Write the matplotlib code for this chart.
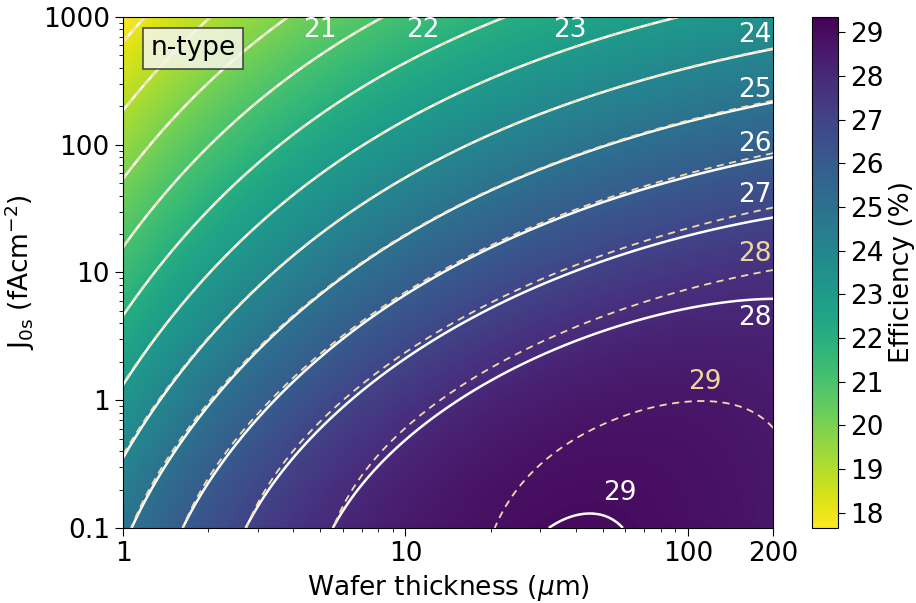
import numpy as np
import matplotlib
matplotlib.use('Agg')
import matplotlib.pyplot as plt
from matplotlib.ticker import FixedLocator, FixedFormatter, LogLocator, NullFormatter

# axis ranges
thickness_range = [1, 200]      # wafer thickness (um)
j0s_range = [0.1, 1000]         # surface saturation current (fA/cm2)

# efficiency contour levels (%)
levels = [18, 19, 20, 21, 22, 23, 24, 25, 26, 27, 28, 29]
cbar_ticks = [18, 19, 20, 21, 22, 23, 24, 25, 26, 27, 28, 29]
eff_range = [17.65, 29.35]

# cell model parameters
vt = 0.02569        # thermal voltage (V)
jsc_max = 46.0      # mA/cm2, thick-wafer limit
jsc_loss = 13.05    # mA/cm2 missing at 1 um
jsc_exp = 0.29
surf_frac = 0.5     # share of J0s seen by the diode
# solid lines: low-injection bulk recombination J0b = coef * W**exp (fA/cm2)
bulk_coef = 0.0245
bulk_exp = 0.94
# dashed lines: injection-dependent bulk recombination
inj_coef = 1.10e-9
inj_exp = 1.18
inj_slope = 0.5

# contour label text and where it sits (thickness, J0s)
solid_labels = ['21', '22', '23', '24', '25', '26', '27', '28', '29']
solid_label_pos = [(4.98, 791), (11.5, 791), (38.2, 791), (172, 723), (172, 268),
                   (172, 101), (172, 40.4), (172, 4.4), (57.4, 0.188)]
dashed_labels = ['28', '29']
dashed_label_pos = [(172, 13.9), (115, 1.39)]


def fill_factor(v):
    return (v - np.log(v + 0.72)) / (v + 1)


def efficiency(v, jsc_ma):
    return vt * v * fill_factor(v) * jsc_ma


W = np.logspace(np.log10(thickness_range[0]), np.log10(thickness_range[1]), 400)
J = np.logspace(np.log10(j0s_range[0]), np.log10(j0s_range[1]), 400)
WW, JJ = np.meshgrid(W, J)

jsc_ma = jsc_max - jsc_loss * WW ** -jsc_exp
jsc_fa = jsc_ma * 1e12

# solid model
j0_solid = surf_frac * JJ + bulk_coef * WW ** bulk_exp
eta_solid = efficiency(np.log(jsc_fa / j0_solid), jsc_ma)

# dashed model, Voc found by fixed-point iteration
v = np.log(jsc_fa / (surf_frac * JJ))
for _ in range(80):
    j0_dash = surf_frac * JJ + inj_coef * WW ** inj_exp * np.exp(inj_slope * v)
    v = np.log(jsc_fa / j0_dash)
eta_dashed = efficiency(v, jsc_ma)

fig = plt.figure(figsize=(9.16, 6.03), dpi=100)
ax = fig.add_axes([0.1343, 0.1244, 0.7096, 0.8474])
cax = fig.add_axes([0.8865, 0.1244, 0.0284, 0.8474])

mesh = ax.pcolormesh(WW, JJ, eta_solid, cmap='viridis_r', shading='gouraud',
                     vmin=eff_range[0], vmax=eff_range[1], rasterized=True)
ax.contour(WW, JJ, eta_solid, levels=levels, colors='white', linewidths=1.8)
ax.contour(WW, JJ, eta_dashed, levels=levels, colors='#f0dca8', linewidths=1.3,
           linestyles=[(0, (4, 3))])

ax.set_xscale('log')
ax.set_yscale('log')
ax.set_xlim(thickness_range)
ax.set_ylim(j0s_range)

fs = 19
for txt, (x, y) in zip(solid_labels, solid_label_pos):
    ax.text(x, y, txt, color='white', fontsize=fs, ha='center', va='center')
for txt, (x, y) in zip(dashed_labels, dashed_label_pos):
    ax.text(x, y, txt, color='#ecd79a', fontsize=fs, ha='center', va='center')

ax.text(0.042, 0.939, 'n-type', transform=ax.transAxes, fontsize=fs,
        ha='left', va='center',
        bbox=dict(boxstyle='square,pad=0.28', facecolor='#f4f6ea', alpha=0.85,
                  edgecolor='#303030', linewidth=1.2))

ax.xaxis.set_major_locator(FixedLocator([1, 10, 100, 200]))
ax.xaxis.set_major_formatter(FixedFormatter(['1', '10', '100', '200']))
ax.xaxis.set_minor_locator(LogLocator(base=10, subs=np.arange(2, 10)))
ax.xaxis.set_minor_formatter(NullFormatter())
ax.yaxis.set_major_locator(FixedLocator([0.1, 1, 10, 100, 1000]))
ax.yaxis.set_major_formatter(FixedFormatter(['0.1', '1', '10', '100', '1000']))
ax.yaxis.set_minor_locator(LogLocator(base=10, subs=np.arange(2, 10)))
ax.yaxis.set_minor_formatter(NullFormatter())
ax.tick_params(axis='both', which='major', labelsize=fs, length=6)
ax.tick_params(axis='both', which='minor', length=3)

ax.set_xlabel(r'Wafer thickness ($\mu$m)', fontsize=fs)
ax.set_ylabel(r'J$_{\rm 0s}$ (fAcm$^{-2}$)', fontsize=fs)

cbar = fig.colorbar(mesh, cax=cax, ticks=cbar_ticks)
cbar.ax.tick_params(labelsize=fs, length=5)
cbar.set_label('Efficiency (%)', fontsize=fs)

fig.savefig('out.png', dpi=100)
